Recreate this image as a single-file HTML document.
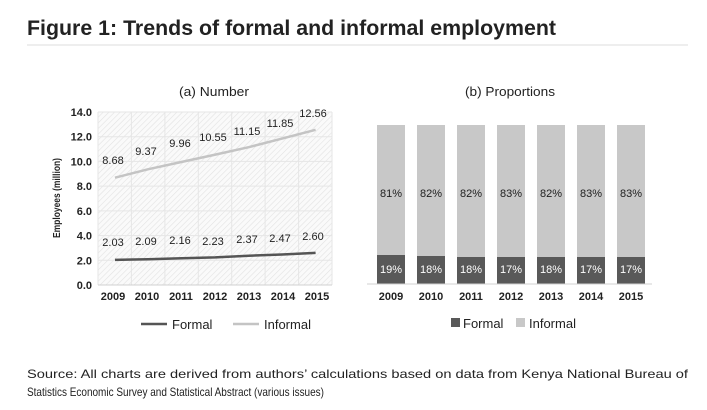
<!DOCTYPE html>
<html><head><meta charset="utf-8"><style>
html,body{margin:0;padding:0;background:#fff;}
svg{display:block;}
text{font-family:"Liberation Sans",sans-serif;fill:#222;}
</style></head><body>
<svg width="707" height="410" viewBox="0 0 707 410" xmlns="http://www.w3.org/2000/svg">
<defs>
<pattern id="h" width="4" height="4" patternUnits="userSpaceOnUse" patternTransform="rotate(45)">
<rect width="4" height="4" fill="#fafafa"/><line x1="0" y1="0" x2="0" y2="4" stroke="#e2e2e2" stroke-width="1.2"/>
</pattern>
</defs>
<text x="27" y="35" font-size="21" font-weight="bold" fill="#111" textLength="529" lengthAdjust="spacingAndGlyphs">Figure 1: Trends of formal and informal employment</text>
<rect x="27" y="44" width="661" height="2" fill="#eeeeee"/>

<!-- left chart -->
<text x="214" y="96" font-size="13" text-anchor="middle" textLength="70" lengthAdjust="spacingAndGlyphs">(a) Number</text>
<rect x="98" y="112" width="234" height="173" fill="url(#h)"/>
<g stroke="#e6e6e6" stroke-width="1">
<line x1="98" y1="112" x2="332" y2="112"/><line x1="98" y1="136.7" x2="332" y2="136.7"/><line x1="98" y1="161.4" x2="332" y2="161.4"/><line x1="98" y1="186.1" x2="332" y2="186.1"/><line x1="98" y1="210.9" x2="332" y2="210.9"/><line x1="98" y1="235.6" x2="332" y2="235.6"/><line x1="98" y1="260.3" x2="332" y2="260.3"/>
<line x1="98" y1="112" x2="98" y2="285"/><line x1="131.4" y1="112" x2="131.4" y2="285"/><line x1="164.9" y1="112" x2="164.9" y2="285"/><line x1="198.3" y1="112" x2="198.3" y2="285"/><line x1="231.7" y1="112" x2="231.7" y2="285"/><line x1="265.1" y1="112" x2="265.1" y2="285"/><line x1="298.6" y1="112" x2="298.6" y2="285"/><line x1="332" y1="112" x2="332" y2="285"/>
</g>
<line x1="98" y1="285" x2="332" y2="285" stroke="#d0d0d0"/>
<g font-size="11" font-weight="bold" text-anchor="end">
<text x="92" y="116">14.0</text><text x="92" y="140.7">12.0</text><text x="92" y="165.4">10.0</text><text x="92" y="190.1">8.0</text><text x="92" y="214.9">6.0</text><text x="92" y="239.6">4.0</text><text x="92" y="264.3">2.0</text><text x="92" y="289">0.0</text>
</g>
<text transform="translate(60,198) rotate(-90)" font-size="10" font-weight="bold" text-anchor="middle" textLength="80" lengthAdjust="spacingAndGlyphs">Employees (million)</text>
<g font-size="11" font-weight="bold" text-anchor="middle">
<text x="113" y="300">2009</text><text x="147" y="300">2010</text><text x="181" y="300">2011</text><text x="215" y="300">2012</text><text x="249" y="300">2013</text><text x="283" y="300">2014</text><text x="317" y="300">2015</text>
</g>
<polyline fill="none" stroke="#c4c4c4" stroke-width="2.5" points="115,177.7 148.4,169.2 181.9,161.9 215.3,154.6 248.7,147.2 282.1,138.6 315.6,129.8"/>
<polyline fill="none" stroke="#555" stroke-width="2.5" points="115,259.9 148.4,259.2 181.9,258.3 215.3,257.4 248.7,255.7 282.1,254.5 315.6,252.9"/>
<g font-size="11" text-anchor="middle" fill="#333">
<text x="113" y="164">8.68</text><text x="146" y="155">9.37</text><text x="180" y="147">9.96</text><text x="213" y="141">10.55</text><text x="247" y="135">11.15</text><text x="280" y="127">11.85</text><text x="313" y="117">12.56</text>
<text x="113" y="246">2.03</text><text x="146" y="245">2.09</text><text x="180" y="244">2.16</text><text x="213" y="245">2.23</text><text x="247" y="243">2.37</text><text x="280" y="242">2.47</text><text x="313" y="240">2.60</text>
</g>
<line x1="141" y1="324" x2="167" y2="324" stroke="#555" stroke-width="2.5"/>
<text x="172" y="329" font-size="13">Formal</text>
<line x1="233" y1="324" x2="259" y2="324" stroke="#c4c4c4" stroke-width="2.5"/>
<text x="264" y="329" font-size="13">Informal</text>

<!-- right chart -->
<text x="510" y="96" font-size="13" text-anchor="middle" textLength="90" lengthAdjust="spacingAndGlyphs">(b) Proportions</text>
<g fill="#c8c8c8">
<rect x="377" y="125" width="28" height="130"/><rect x="417" y="125" width="28" height="131"/><rect x="457" y="125" width="28" height="132"/><rect x="497" y="125" width="28" height="132"/><rect x="537" y="125" width="28" height="132"/><rect x="577" y="125" width="28" height="132"/><rect x="617" y="125" width="28" height="132"/>
</g>
<g fill="#595959">
<rect x="377" y="255" width="28" height="29"/><rect x="417" y="256" width="28" height="28"/><rect x="457" y="257" width="28" height="27"/><rect x="497" y="257" width="28" height="27"/><rect x="537" y="257" width="28" height="27"/><rect x="577" y="257" width="28" height="27"/><rect x="617" y="257" width="28" height="27"/>
</g>
<line x1="367" y1="284" x2="652" y2="284" stroke="#d0d0d0"/>
<g font-size="11" text-anchor="middle" fill="#333">
<text x="391" y="197">81%</text><text x="431" y="197">82%</text><text x="471" y="197">82%</text><text x="511" y="197">83%</text><text x="551" y="197">82%</text><text x="591" y="197">83%</text><text x="631" y="197">83%</text>
</g>
<g font-size="11" text-anchor="middle">
<text x="391" y="273" style="fill:#fff">19%</text><text x="431" y="273" style="fill:#fff">18%</text><text x="471" y="273" style="fill:#fff">18%</text><text x="511" y="273" style="fill:#fff">17%</text><text x="551" y="273" style="fill:#fff">18%</text><text x="591" y="273" style="fill:#fff">17%</text><text x="631" y="273" style="fill:#fff">17%</text>
</g>
<g font-size="11" font-weight="bold" text-anchor="middle">
<text x="391" y="300">2009</text><text x="431" y="300">2010</text><text x="471" y="300">2011</text><text x="511" y="300">2012</text><text x="551" y="300">2013</text><text x="591" y="300">2014</text><text x="631" y="300">2015</text>
</g>
<rect x="451" y="318" width="9" height="9" fill="#595959"/>
<text x="463" y="328" font-size="13">Formal</text>
<rect x="516" y="318" width="9" height="9" fill="#c8c8c8"/>
<text x="529" y="328" font-size="13">Informal</text>

<text x="27" y="378" font-size="12" textLength="661" lengthAdjust="spacingAndGlyphs">Source: All charts are derived from authors’ calculations based on data from Kenya National Bureau of</text>
<text x="27" y="396" font-size="12" textLength="297" lengthAdjust="spacingAndGlyphs">Statistics Economic Survey and Statistical Abstract (various issues)</text>
</svg>
</body></html>
